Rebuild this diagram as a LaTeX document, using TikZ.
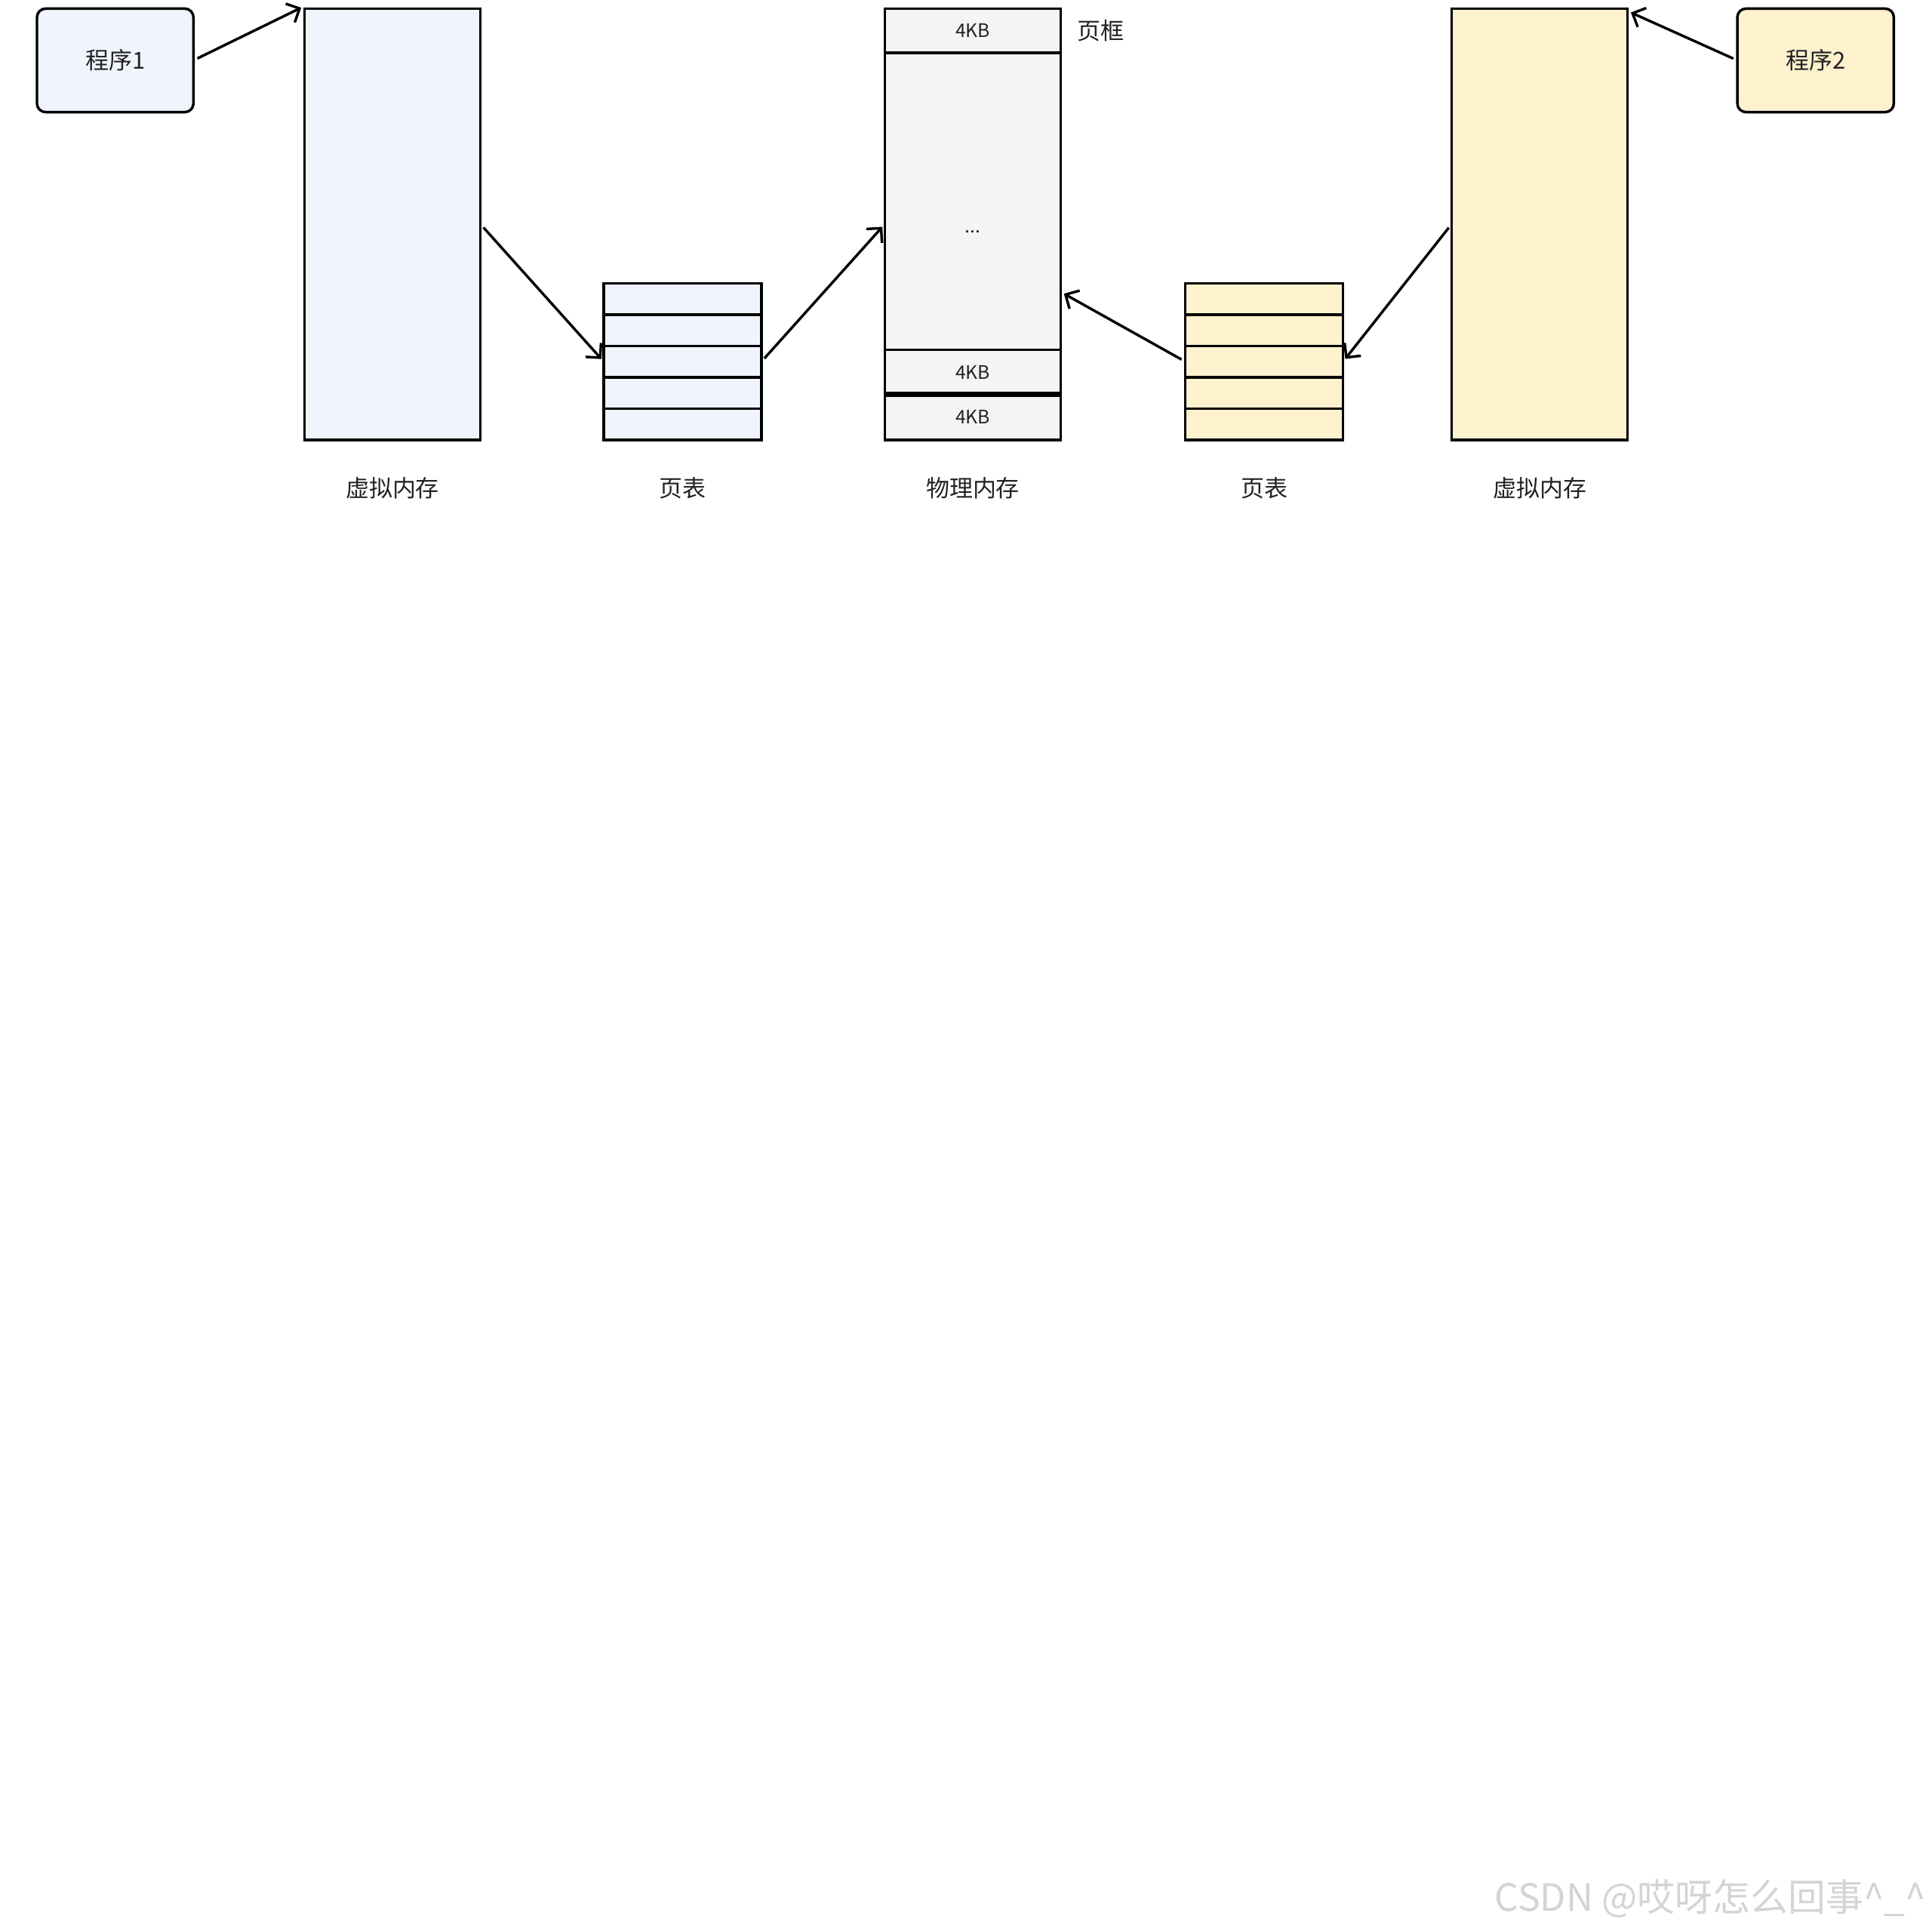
\documentclass[tikz,border=0pt]{standalone}
\usepackage{fontspec}
\setmainfont{Noto Sans CJK SC}
\usetikzlibrary{arrows.meta,positioning}
\definecolor{vmblue}{HTML}{F0F4FC}
\definecolor{vmyellow}{HTML}{FDF1CE}
\definecolor{pmgray}{HTML}{F4F4F4}
\definecolor{inkdark}{HTML}{222222}
\newcommand{\lblfont}{\fontsize{5.4}{6.5}\selectfont}
\newcommand{\cellfont}{\fontsize{4.3}{5.2}\selectfont}

\begin{document}
\begin{tikzpicture}[
  line width=0.6pt,
  block/.style={draw=black, line width=0.6pt, inner sep=0pt, outer sep=0pt, anchor=north west},
  progbox/.style={block, rounded corners=2pt, minimum width=1.27cm,
                  minimum height=0.84cm, font=\lblfont, text=inkdark},
  vmbox/.style={block, minimum width=1.43cm, minimum height=3.50cm},
  ptrow/.style={block, minimum width=1.28cm, minimum height=0.254cm},
  pmcell/.style={block, fill=pmgray, minimum width=1.43cm, font=\cellfont, text=inkdark},
  caption/.style={font=\lblfont, text=inkdark},
  conn/.style={-{Straight Barb[length=2.4pt,width=4.8pt]}, line width=0.6pt,
               shorten <=1pt, shorten >=0.8pt}
]
  \useasboundingbox (0,0) rectangle (15.68,-15.68);

  % --- programs ---
  \node[progbox, fill=vmblue] (prog1) at (0.30,-0.07) {程序1};
  \node[progbox, fill=vmyellow] (prog2) at (14.10,-0.07) {程序2};

  % --- virtual memories ---
  \node[vmbox, fill=vmblue] (vm1) at (2.47,-0.07) {};
  \node[vmbox, fill=vmyellow] (vm2) at (11.78,-0.07) {};

  % --- page tables (5 rows each) ---
  \foreach \i in {1,...,5}{
    \node[ptrow, fill=vmblue] (pt1r\i) at (4.90,{-2.30-0.254*(\i-1)}) {};
    \node[ptrow, fill=vmyellow] (pt2r\i) at (9.62,{-2.30-0.254*(\i-1)}) {};
  }

  % --- physical memory ---
  \node[vmbox, fill=pmgray] (pm) at (7.18,-0.07) {};
  \node[pmcell, minimum height=0.36cm] (pmtop) at (pm.north west) {4KB};
  \node[pmcell, minimum height=2.41cm] (pmmid) at (pmtop.south west) {};
  \node[pmcell, minimum height=0.36cm] (pmc1) at (pmmid.south west) {4KB};
  \node[pmcell, minimum height=0.37cm] (pmc2) at (pmc1.south west) {4KB};
  \node[font=\cellfont, text=inkdark] (pmdots) at ([yshift=-0.06cm]pm.center) {...};
  \draw[line width=1.3pt] (pmc1.south west) -- (pmc1.south east);
  \node[caption, anchor=west, inner sep=0pt] (frame) at ([xshift=0.12cm]pmtop.east) {页框};

  % --- captions ---
  \node[caption] (capvm1) at ([yshift=-0.39cm]vm1.south) {虚拟内存};
  \node[caption] (cappt1) at ([yshift=-0.39cm]pt1r5.south) {页表};
  \node[caption] (cappm) at ([yshift=-0.39cm]pm.south) {物理内存};
  \node[caption] (cappt2) at ([yshift=-0.39cm]pt2r5.south) {页表};
  \node[caption] (capvm2) at ([yshift=-0.39cm]vm2.south) {虚拟内存};

  % --- mappings ---
  \coordinate (pmin) at ([yshift=-0.55cm]pm.east);
  \draw[conn] (prog1.east) -- ([yshift=0.02cm]vm1.north west);
  \draw[conn] (vm1.east) -- (pt1r3.west);
  \draw[conn] (pt1r3.east) -- (pm.west);
  \draw[conn] (pt2r3.west) -- (pmin);
  \draw[conn] (vm2.west) -- (pt2r3.east);
  \draw[conn] (prog2.west) -- ([yshift=-0.02cm]vm2.north east);

  % --- watermark ---
  \node[anchor=west, font=\fontsize{8.7}{10}\selectfont, text=black!17, inner sep=0pt]
       (wmark) at (12.12,-15.41) {CSDN @哎呀怎么回事\^{}\_\^{}};
\end{tikzpicture}
\end{document}
